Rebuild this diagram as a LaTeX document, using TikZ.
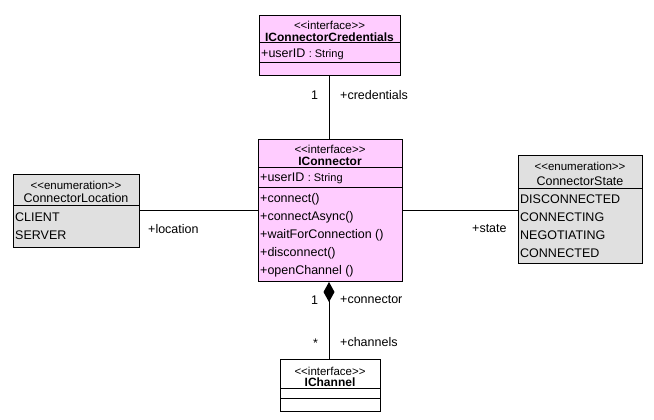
\documentclass[tikz,border=0pt]{standalone}
\usepackage{fontspec}
\setmainfont{Liberation Sans}
\usetikzlibrary{arrows.meta}
\definecolor{ifacepink}{HTML}{FFCCFF}
\definecolor{enumgray}{HTML}{E0E0E0}
\tikzset{
  classbox/.style={draw=black, line width=1pt, anchor=north west, inner sep=0pt},
  ifacebox/.style={classbox, fill=ifacepink},
  enumbox/.style={classbox, fill=enumgray},
  sep/.style={line width=1pt},
  member/.style={anchor=west, inner sep=0pt, font=\fontsize{12.5}{14}\selectfont},
  stereo/.style={anchor=center, inner sep=0pt, font=\fontsize{11.5}{13}\selectfont},
  cname/.style={anchor=center, inner sep=0pt, font=\fontsize{12}{14}\selectfont\bfseries},
  ename/.style={anchor=center, inner sep=0pt, font=\fontsize{12.5}{14}\selectfont},
  role/.style={anchor=west, inner sep=0pt, font=\fontsize{12.5}{14}\selectfont},
  link/.style={line width=1pt},
}
\newcommand{\typ}[1]{{\fontsize{11}{13}\selectfont #1}}
\begin{document}
\begin{tikzpicture}[x=1pt, y=-1pt]
\useasboundingbox (0,0) rectangle (654,420);
\fill[white] (0,0) rectangle (654,420);

% IConnectorCredentials
\node[ifacebox, minimum width=141, minimum height=60] (cred) at (259,15) {};
\node[stereo] (credst) at (329.5,25) {<{}<interface>{}>};
\node[cname] (credname) at (329.5,37) {IConnectorCredentials};
\draw[sep] (259,43) -- (400,43);
\node[member] (creduid) at (261,54) {+userID \typ{: String}};
\draw[sep] (259,63) -- (400,63);

% IConnector
\node[ifacebox, minimum width=144, minimum height=142] (conn) at (258,139) {};
\node[stereo] (connst) at (330,149) {<{}<interface>{}>};
\node[cname] (connname) at (330,161) {IConnector};
\draw[sep] (258,167) -- (402,167);
\node[member] (connuid) at (260,178) {+userID \typ{: String}};
\draw[sep] (258,187) -- (402,187);
\node[member] (m1) at (260,199) {+connect()};
\node[member] (m2) at (260,217) {+connectAsync()};
\node[member] (m3) at (260,235) {+waitForConnection ()};
\node[member] (m4) at (260,253) {+disconnect()};
\node[member] (m5) at (260,271) {+openChannel ()};

% ConnectorLocation
\node[enumbox, minimum width=126, minimum height=73] (loc) at (13,174) {};
\node[stereo] (locst) at (76,185) {<{}<enumeration>{}>};
\node[ename] (locname) at (76,198) {ConnectorLocation};
\draw[sep] (13,205) -- (139,205);
\node[member] (l1) at (15,217) {CLIENT};
\node[member] (l2) at (15,235) {SERVER};

% ConnectorState
\node[enumbox, minimum width=124, minimum height=108] (state) at (518,155) {};
\node[stereo] (statest) at (580,166) {<{}<enumeration>{}>};
\node[ename] (statename) at (580,181) {ConnectorState};
\draw[sep] (518,188) -- (642,188);
\node[member] (s1) at (520,199) {DISCONNECTED};
\node[member] (s2) at (520,217) {CONNECTING};
\node[member] (s3) at (520,235) {NEGOTIATING};
\node[member] (s4) at (520,253) {CONNECTED};

% IChannel
\node[classbox, fill=white, minimum width=100, minimum height=52] (chan) at (280,359) {};
\node[stereo] (chanst) at (330,371) {<{}<interface>{}>};
\node[cname] (channame) at (330,382) {IChannel};
\draw[sep] (280,388) -- (380,388);
\draw[sep] (280,398) -- (380,398);

% Associations
\draw[link] (cred.south -| 329,0) -- (conn.north -| 329,0);
\node[role] (credmult) at (311,95) {1};
\node[role] (credrole) at (340,95) {+credentials};

\draw[link] (loc.east |- conn.west) -- (conn.west);
\node[role] (locrole) at (148,229) {+location};

\draw[link] (conn.east) -- (conn.east -| state.west);
\node[role] (staterole) at (472,229) {+state};

\draw[link, {Diamond[length=20pt, width=11pt, fill=black]}-] (conn.south -| 329,0) -- (chan.north -| 329,0);
\node[role] (connmult) at (311,300) {1};
\node[role] (connrole) at (340,300) {+connector};
\node[role] (chanmult) at (313,343) {*};
\node[role] (chanrole) at (340,342) {+channels};
\end{tikzpicture}
\end{document}
